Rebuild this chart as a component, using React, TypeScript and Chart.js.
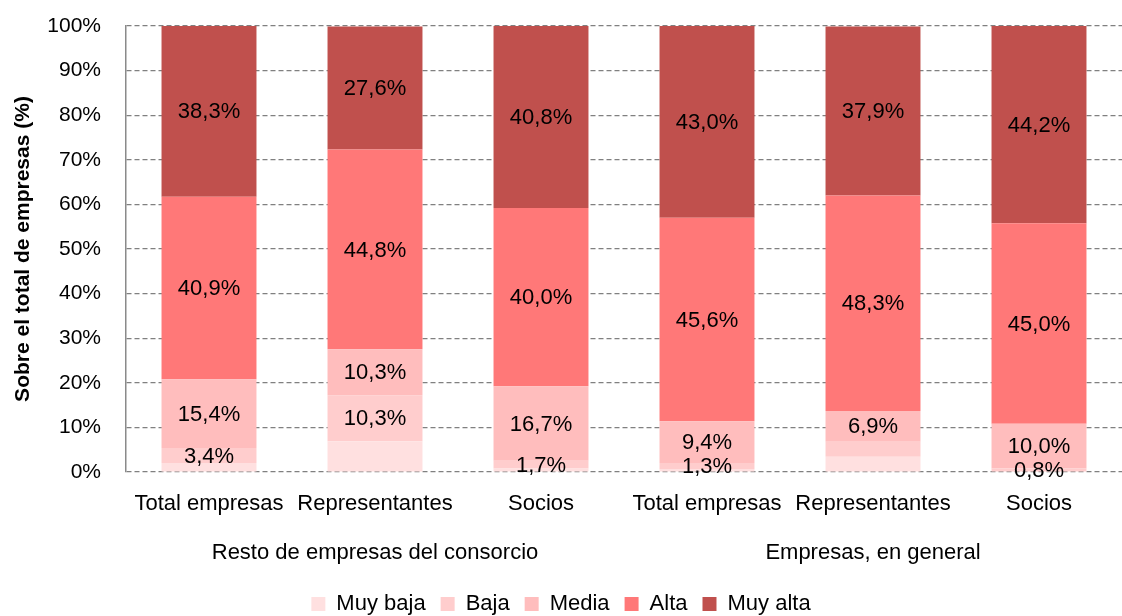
import React, { useEffect, useRef } from "react";
import { Chart, registerables } from "chart.js";

Chart.register(...registerables);

const categories = ["Total empresas", "Representantes", "Socios", "Total empresas", "Representantes", "Socios"];
const groups = ["Resto de empresas del consorcio", "Empresas, en general"];
const groupCenterIndex = [1, 4];

const seriesNames = ["Muy baja", "Baja", "Media", "Alta", "Muy alta"];
const muyBaja = [2.0, 6.9, 0.8, 0.7, 3.4, 0.0];
const baja = [3.4, 10.3, 1.7, 1.3, 3.4, 0.8];
const media = [15.4, 10.3, 16.7, 9.4, 6.9, 10.0];
const alta = [40.9, 44.8, 40.0, 45.6, 48.3, 45.0];
const muyAlta = [38.3, 27.6, 40.8, 43.0, 37.9, 44.2];

const showMuyBaja = [false, false, false, false, false, false];
const showBaja = [true, true, true, true, false, true];
const showMedia = [true, true, true, true, true, true];
const showAlta = [true, true, true, true, true, true];
const showMuyAlta = [true, true, true, true, true, true];

const colors = ["#FFE0E0", "#FFCDCD", "#FFBDBD", "#FF7878", "#C0504D"];

const yTicks = [0, 10, 20, 30, 40, 50, 60, 70, 80, 90, 100];

const FONT = "'Liberation Sans', Arial, sans-serif";

const fmt = (v: number) => v.toFixed(1).replace(".", ",") + "%";

const labelPlugin = {
  id: "segLabels",
  afterDatasetsDraw(chart: any) {
    const ctx = chart.ctx;
    ctx.save();
    ctx.font = `22px ${FONT}`;
    ctx.fillStyle = "#000";
    ctx.textAlign = "center";
    ctx.textBaseline = "middle";
    chart.data.datasets.forEach((ds: any, di: number) => {
      const meta = chart.getDatasetMeta(di);
      meta.data.forEach((el: any, i: number) => {
        if (!ds.showLabel[i]) return;
        const y = (el.y + el.base) / 2;
        ctx.fillText(fmt(ds.data[i]), el.x, y + 1);
      });
    });
    ctx.restore();
  },
};

const groupPlugin = {
  id: "groupLabels",
  afterDraw(chart: any) {
    const ctx = chart.ctx;
    const xs = chart.scales.x;
    ctx.save();
    ctx.font = `22px ${FONT}`;
    ctx.fillStyle = "#000";
    ctx.textAlign = "center";
    ctx.textBaseline = "middle";
    groups.forEach((g, i) => {
      const x = xs.getPixelForValue(groupCenterIndex[i]);
      ctx.fillText(g, x, chart.chartArea.bottom + 81);
    });
    ctx.restore();
  },
};

export default function App() {
  const ref = useRef<HTMLCanvasElement | null>(null);
  useEffect(() => {
    if (!ref.current) return;
    const dataArr = [muyBaja, baja, media, alta, muyAlta];
    const shows = [showMuyBaja, showBaja, showMedia, showAlta, showMuyAlta];
    const chart = new Chart(ref.current, {
      type: "bar",
      data: {
        labels: categories,
        datasets: seriesNames.map((name, i) => ({
          label: name,
          data: dataArr[i],
          backgroundColor: colors[i],
          borderWidth: 0,
          barPercentage: 0.572,
          categoryPercentage: 1,
          showLabel: shows[i],
        })) as any,
      },
      options: {
        animation: false,
        responsive: false,
        layout: { padding: { top: 26, left: 0, right: 0, bottom: -9 } },
        plugins: {
          tooltip: { enabled: false },
          legend: {
            position: "bottom",
            labels: {
              boxWidth: 14,
              boxHeight: 14,
              padding: 15,
              color: "#000",
              font: { size: 22, family: FONT },
            },
          },
        },
        scales: {
          x: {
            stacked: true,
            grid: { display: false, drawTicks: false },
            border: { display: false },
            ticks: { color: "#000", font: { size: 22, family: FONT }, padding: 19, maxRotation: 0, autoSkip: false },
            afterFit: (s: any) => {
              s.height = 106;
            },
          },
          y: {
            stacked: true,
            min: 0,
            max: 100,
            afterBuildTicks: (s: any) => {
              s.ticks = yTicks.map((v) => ({ value: v }));
            },
            grid: { color: "#808080", lineWidth: 1.2, drawTicks: true, tickLength: 25, tickColor: "rgba(0,0,0,0)" },
            border: { display: true, color: "#8a8a8a", width: 1.5, dash: [5, 3] },
            ticks: {
              color: "#000",
              font: { size: 21, family: FONT },
              padding: 0,
              callback: (v: any) => v + "%",
            },
            title: {
              display: true,
              text: "Sobre el total de empresas (%)",
              color: "#000",
              font: { size: 21, weight: "bold", family: FONT },
              padding: { top: 11, bottom: 0 },
            },
            afterFit: (s: any) => {
              s.width = 126;
            },
          },
        },
      },
      plugins: [labelPlugin, groupPlugin],
    });
    return () => chart.destroy();
  }, []);
  return (
    <div style={{ position: "fixed", left: 0, top: 0, width: 1122, height: 616, background: "#fff" }}>
      <canvas ref={ref} width={1122} height={616} />
    </div>
  );
}
